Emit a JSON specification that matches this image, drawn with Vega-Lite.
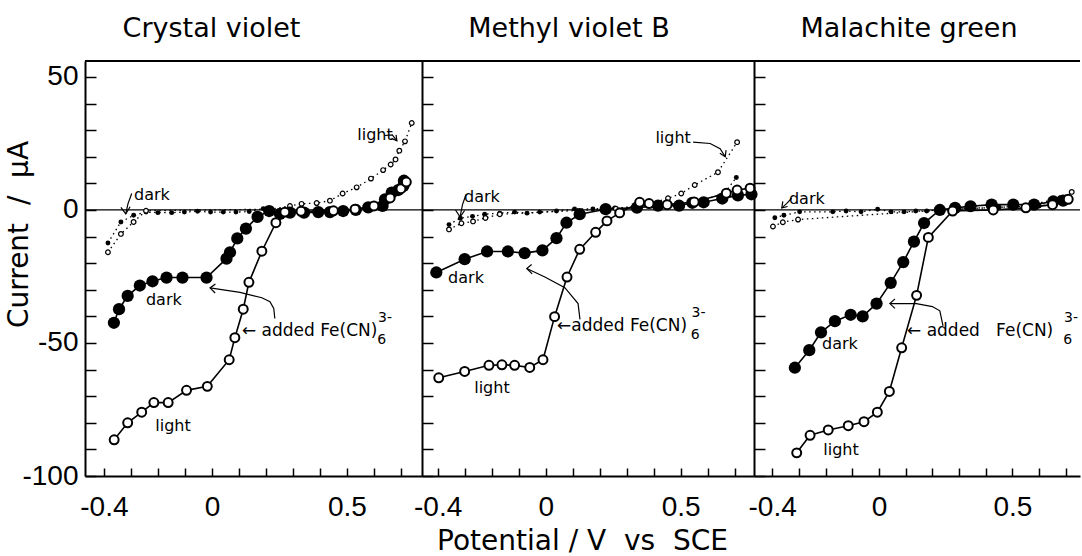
{
  "$schema": "https://vega.github.io/schema/vega-lite/v6.json",
  "padding": {"left": 5, "top": 15, "right": 0, "bottom": 0},
  "bounds": "flush",
  "spacing": 0,
  "config": {
    "view": {"stroke": null},
    "font": "DejaVu Sans",
    "axis": {"domainColor": "black", "domainWidth": 2, "tickColor": "black", "tickWidth": 1.5, "labelColor": "black", "labelFont": "Liberation Sans Narrow, Liberation Sans, DejaVu Sans", "labelFontSize": 28, "grid": false, "titleFont": "DejaVu Sans", "titleFontWeight": "normal", "titleColor": "black"},
    "title": {"font": "DejaVu Sans", "fontSize": 27, "fontWeight": "normal", "color": "black", "offset": 17, "baseline": "bottom"}
  },
  "datasets": {
    "pts": [
      {"p":1,"s":"dd","x":-0.385,"y":-12.4},{"p":1,"s":"dd","x":-0.337,"y":-4.5},{"p":1,"s":"dd","x":-0.29,"y":-2},{"p":1,"s":"dd","x":-0.244,"y":-0.8},{"p":1,"s":"dd","x":-0.2,"y":-1},{"p":1,"s":"dd","x":-0.149,"y":-1},{"p":1,"s":"dd","x":-0.102,"y":-0.8},{"p":1,"s":"dd","x":-0.053,"y":-0.5},{"p":1,"s":"dd","x":-0.005,"y":-0.8},{"p":1,"s":"dd","x":0.042,"y":-0.8},{"p":1,"s":"dd","x":0.089,"y":-0.8},{"p":1,"s":"dd","x":0.138,"y":-0.6},{"p":1,"s":"dd","x":0.19,"y":0.5},{"p":1,"s":"dd","x":0.25,"y":-0.8},{"p":1,"s":"dd","x":0.3,"y":-0.8},{"p":1,"s":"dd","x":0.4,"y":-0.6},{"p":1,"s":"dd","x":0.5,"y":-0.3},{"p":1,"s":"dd","x":0.6,"y":1.5},{"p":1,"s":"dd","x":0.68,"y":6},{"p":1,"s":"dd","x":0.72,"y":10},
      {"p":1,"s":"ld","x":-0.385,"y":-15.9},{"p":1,"s":"ld","x":-0.337,"y":-9},{"p":1,"s":"ld","x":-0.29,"y":-4.5},{"p":1,"s":"ld","x":-0.244,"y":-0.3},{"p":1,"s":"ld","x":0.22,"y":0.3},{"p":1,"s":"ld","x":0.289,"y":1.5},{"p":1,"s":"ld","x":0.332,"y":2.3},{"p":1,"s":"ld","x":0.388,"y":2.6},{"p":1,"s":"ld","x":0.437,"y":3.5},{"p":1,"s":"ld","x":0.484,"y":6.2},{"p":1,"s":"ld","x":0.536,"y":8.5},{"p":1,"s":"ld","x":0.589,"y":11.8},{"p":1,"s":"ld","x":0.634,"y":15},{"p":1,"s":"ld","x":0.662,"y":17.1},{"p":1,"s":"ld","x":0.68,"y":19},{"p":1,"s":"ld","x":0.694,"y":22.3},{"p":1,"s":"ld","x":0.715,"y":25.8},{"p":1,"s":"ld","x":0.74,"y":32.7},
      {"p":1,"s":"dk","x":-0.363,"y":-42.4},{"p":1,"s":"dk","x":-0.344,"y":-37.3},{"p":1,"s":"dk","x":-0.312,"y":-32.3},{"p":1,"s":"dk","x":-0.267,"y":-28.4},{"p":1,"s":"dk","x":-0.22,"y":-26.8},{"p":1,"s":"dk","x":-0.168,"y":-25.4},{"p":1,"s":"dk","x":-0.109,"y":-25.4},{"p":1,"s":"dk","x":-0.02,"y":-25.4},{"p":1,"s":"dk","x":0.054,"y":-18.3},{"p":1,"s":"dk","x":0.067,"y":-15.9},{"p":1,"s":"dk","x":0.094,"y":-10.7},{"p":1,"s":"dk","x":0.126,"y":-7},{"p":1,"s":"dk","x":0.169,"y":-2.6},{"p":1,"s":"dk","x":0.212,"y":-0.4},{"p":1,"s":"dk","x":0.252,"y":-1.5},{"p":1,"s":"dk","x":0.289,"y":-1},{"p":1,"s":"dk","x":0.341,"y":-1},{"p":1,"s":"dk","x":0.394,"y":-0.8},{"p":1,"s":"dk","x":0.437,"y":-0.8},{"p":1,"s":"dk","x":0.486,"y":-0.4},{"p":1,"s":"dk","x":0.533,"y":0},{"p":1,"s":"dk","x":0.579,"y":1},{"p":1,"s":"dk","x":0.632,"y":1.5},{"p":1,"s":"dk","x":0.641,"y":4},{"p":1,"s":"dk","x":0.666,"y":6.5},{"p":1,"s":"dk","x":0.69,"y":7.5},{"p":1,"s":"dk","x":0.709,"y":9},{"p":1,"s":"dk","x":0.711,"y":11},
      {"p":1,"s":"lt","x":-0.362,"y":-86.4},{"p":1,"s":"lt","x":-0.312,"y":-80},{"p":1,"s":"lt","x":-0.26,"y":-76},{"p":1,"s":"lt","x":-0.215,"y":-72.4},{"p":1,"s":"lt","x":-0.162,"y":-72.4},{"p":1,"s":"lt","x":-0.094,"y":-67.8},{"p":1,"s":"lt","x":-0.017,"y":-66.3},{"p":1,"s":"lt","x":0.064,"y":-56.3},{"p":1,"s":"lt","x":0.085,"y":-48},{"p":1,"s":"lt","x":0.116,"y":-37.3},{"p":1,"s":"lt","x":0.137,"y":-27.2},{"p":1,"s":"lt","x":0.185,"y":-15.5},{"p":1,"s":"lt","x":0.237,"y":-4.8},{"p":1,"s":"lt","x":0.27,"y":-0.8},{"p":1,"s":"lt","x":0.33,"y":-0.5},{"p":1,"s":"lt","x":0.45,"y":-0.3},{"p":1,"s":"lt","x":0.53,"y":0.3},{"p":1,"s":"lt","x":0.6,"y":1.5},{"p":1,"s":"lt","x":0.66,"y":4.5},{"p":1,"s":"lt","x":0.7,"y":8},{"p":1,"s":"lt","x":0.72,"y":10.5},

      {"p":2,"s":"dd","x":-0.358,"y":-5.5},{"p":2,"s":"dd","x":-0.316,"y":-3.1},{"p":2,"s":"dd","x":-0.271,"y":-2.4},{"p":2,"s":"dd","x":-0.226,"y":-1.6},{"p":2,"s":"dd","x":-0.17,"y":-1.2},{"p":2,"s":"dd","x":-0.115,"y":-0.8},{"p":2,"s":"dd","x":-0.069,"y":-1.2},{"p":2,"s":"dd","x":-0.022,"y":-0.8},{"p":2,"s":"dd","x":0.04,"y":-0.4},{"p":2,"s":"dd","x":0.107,"y":0.4},{"p":2,"s":"dd","x":0.175,"y":0.4},{"p":2,"s":"dd","x":0.256,"y":0.8},{"p":2,"s":"dd","x":0.35,"y":1},{"p":2,"s":"dd","x":0.45,"y":2},{"p":2,"s":"dd","x":0.55,"y":3},{"p":2,"s":"dd","x":0.66,"y":6},{"p":2,"s":"dd","x":0.706,"y":12.2},
      {"p":2,"s":"ld","x":-0.358,"y":-7.3},{"p":2,"s":"ld","x":-0.312,"y":-5},{"p":2,"s":"ld","x":-0.269,"y":-4.3},{"p":2,"s":"ld","x":-0.223,"y":-3},{"p":2,"s":"ld","x":-0.17,"y":-1.6},{"p":2,"s":"ld","x":0.26,"y":0.5},{"p":2,"s":"ld","x":0.383,"y":2.2},{"p":2,"s":"ld","x":0.453,"y":4.4},{"p":2,"s":"ld","x":0.502,"y":6.2},{"p":2,"s":"ld","x":0.552,"y":9.4},{"p":2,"s":"ld","x":0.638,"y":14.2},{"p":2,"s":"ld","x":0.709,"y":25.5},
      {"p":2,"s":"dk","x":-0.405,"y":-23.5},{"p":2,"s":"dk","x":-0.3,"y":-18.5},{"p":2,"s":"dk","x":-0.217,"y":-15.6},{"p":2,"s":"dk","x":-0.14,"y":-15.6},{"p":2,"s":"dk","x":-0.078,"y":-16.2},{"p":2,"s":"dk","x":-0.012,"y":-15.2},{"p":2,"s":"dk","x":0.04,"y":-10.6},{"p":2,"s":"dk","x":0.077,"y":-4.8},{"p":2,"s":"dk","x":0.126,"y":-1.6},{"p":2,"s":"dk","x":0.222,"y":0.3},{"p":2,"s":"dk","x":0.338,"y":0.9},{"p":2,"s":"dk","x":0.416,"y":1.6},{"p":2,"s":"dk","x":0.494,"y":1.6},{"p":2,"s":"dk","x":0.543,"y":2.7},{"p":2,"s":"dk","x":0.585,"y":2.9},{"p":2,"s":"dk","x":0.654,"y":4.3},{"p":2,"s":"dk","x":0.712,"y":5.5},{"p":2,"s":"dk","x":0.762,"y":5.9},
      {"p":2,"s":"lt","x":-0.396,"y":-63.1},{"p":2,"s":"lt","x":-0.3,"y":-60.7},{"p":2,"s":"lt","x":-0.21,"y":-58.4},{"p":2,"s":"lt","x":-0.162,"y":-58.2},{"p":2,"s":"lt","x":-0.115,"y":-58.4},{"p":2,"s":"lt","x":-0.059,"y":-59.2},{"p":2,"s":"lt","x":-0.01,"y":-56.3},{"p":2,"s":"lt","x":0.033,"y":-40.1},{"p":2,"s":"lt","x":0.079,"y":-25.2},{"p":2,"s":"lt","x":0.126,"y":-14.8},{"p":2,"s":"lt","x":0.185,"y":-8.4},{"p":2,"s":"lt","x":0.227,"y":-4.1},{"p":2,"s":"lt","x":0.274,"y":-1.1},{"p":2,"s":"lt","x":0.348,"y":2.9},{"p":2,"s":"lt","x":0.383,"y":2.4},{"p":2,"s":"lt","x":0.45,"y":2},{"p":2,"s":"lt","x":0.55,"y":3},{"p":2,"s":"lt","x":0.669,"y":6.3},{"p":2,"s":"lt","x":0.709,"y":7.5},{"p":2,"s":"lt","x":0.757,"y":8.2},

      {"p":3,"s":"dd","x":-0.39,"y":-2.9},{"p":3,"s":"dd","x":-0.356,"y":-2},{"p":3,"s":"dd","x":-0.297,"y":-0.7},{"p":3,"s":"dd","x":-0.173,"y":-0.7},{"p":3,"s":"dd","x":-0.123,"y":-0.4},{"p":3,"s":"dd","x":-0.067,"y":-0.7},{"p":3,"s":"dd","x":-0.005,"y":0.3},{"p":3,"s":"dd","x":0.045,"y":-0.7},{"p":3,"s":"dd","x":0.094,"y":-0.7},{"p":3,"s":"dd","x":0.138,"y":-0.4},{"p":3,"s":"dd","x":0.179,"y":-0.4},{"p":3,"s":"dd","x":0.3,"y":0.5},{"p":3,"s":"dd","x":0.45,"y":1},{"p":3,"s":"dd","x":0.6,"y":1.5},{"p":3,"s":"dd","x":0.7,"y":3},
      {"p":3,"s":"ld","x":-0.397,"y":-6.2},{"p":3,"s":"ld","x":-0.36,"y":-4.6},{"p":3,"s":"ld","x":-0.303,"y":-3.6},{"p":3,"s":"ld","x":0.23,"y":0},{"p":3,"s":"ld","x":0.55,"y":1.5},{"p":3,"s":"ld","x":0.678,"y":4.4},{"p":3,"s":"ld","x":0.722,"y":6.8},
      {"p":3,"s":"dk","x":-0.315,"y":-59.3},{"p":3,"s":"dk","x":-0.261,"y":-52.7},{"p":3,"s":"dk","x":-0.217,"y":-46},{"p":3,"s":"dk","x":-0.165,"y":-41.8},{"p":3,"s":"dk","x":-0.106,"y":-39.4},{"p":3,"s":"dk","x":-0.061,"y":-40},{"p":3,"s":"dk","x":-0.009,"y":-35.2},{"p":3,"s":"dk","x":0.044,"y":-27.4},{"p":3,"s":"dk","x":0.091,"y":-19.6},{"p":3,"s":"dk","x":0.131,"y":-11.9},{"p":3,"s":"dk","x":0.169,"y":-4.9},{"p":3,"s":"dk","x":0.228,"y":0},{"p":3,"s":"dk","x":0.285,"y":0.8},{"p":3,"s":"dk","x":0.343,"y":1.4},{"p":3,"s":"dk","x":0.422,"y":2},{"p":3,"s":"dk","x":0.503,"y":2},{"p":3,"s":"dk","x":0.581,"y":2},{"p":3,"s":"dk","x":0.653,"y":3.2},{"p":3,"s":"dk","x":0.69,"y":3.5},
      {"p":3,"s":"lt","x":-0.308,"y":-91.3},{"p":3,"s":"lt","x":-0.258,"y":-84.7},{"p":3,"s":"lt","x":-0.19,"y":-82.7},{"p":3,"s":"lt","x":-0.115,"y":-81.1},{"p":3,"s":"lt","x":-0.056,"y":-79.6},{"p":3,"s":"lt","x":-0.006,"y":-76},{"p":3,"s":"lt","x":0.039,"y":-68.2},{"p":3,"s":"lt","x":0.085,"y":-51.8},{"p":3,"s":"lt","x":0.141,"y":-32.1},{"p":3,"s":"lt","x":0.185,"y":-10.3},{"p":3,"s":"lt","x":0.276,"y":-0.4},{"p":3,"s":"lt","x":0.428,"y":0},{"p":3,"s":"lt","x":0.55,"y":0.8},{"p":3,"s":"lt","x":0.65,"y":2},{"p":3,"s":"lt","x":0.709,"y":4}
    ],
    "notes": [
      {"p":1,"k":"label","x":-0.222,"y":5.8,"t":"dark"},{"p":1,"k":"label","x":0.604,"y":28,"t":"light"},{"p":1,"k":"label","x":-0.178,"y":-33.8,"t":"dark"},{"p":1,"k":"label","x":-0.144,"y":-81.2,"t":"light"},
      {"p":1,"k":"added","x":0.111,"y":-45.4,"t":"← added Fe(CN)"},{"p":1,"k":"sub","x":0.612,"y":-48.8,"t":"6"},{"p":1,"k":"sub","x":0.615,"y":-40.5,"t":"3-"},
      {"p":2,"k":"label","x":-0.236,"y":5,"t":"dark"},{"p":2,"k":"label","x":0.472,"y":27,"t":"light"},{"p":2,"k":"label","x":-0.295,"y":-25.6,"t":"dark"},{"p":2,"k":"label","x":-0.199,"y":-66.9,"t":"light"},
      {"p":2,"k":"added","x":0.042,"y":-43.7,"t":"←added Fe(CN)"},{"p":2,"k":"sub","x":0.537,"y":-47.1,"t":"6"},{"p":2,"k":"sub","x":0.54,"y":-38.8,"t":"3-"},
      {"p":3,"k":"label","x":-0.27,"y":4.3,"t":"dark"},{"p":3,"k":"label","x":-0.146,"y":-50.4,"t":"dark"},{"p":3,"k":"label","x":-0.142,"y":-90.4,"t":"light"},
      {"p":3,"k":"added","x":0.105,"y":-45.4,"t":"← added\u00a0\u00a0\u00a0Fe(CN)"},{"p":3,"k":"sub","x":0.69,"y":-48.8,"t":"6"},{"p":3,"k":"sub","x":0.693,"y":-40.5,"t":"3-"}
    ],
    "arrows": [
      {"p":1,"id":"a1","o":1,"x":-0.297,"y":6.2},{"p":1,"id":"a1","o":2,"x":-0.311,"y":2.3},{"p":1,"id":"a1","o":3,"x":-0.319,"y":-1.5},
      {"p":1,"id":"a1h","o":1,"x":-0.337,"y":1},{"p":1,"id":"a1h","o":2,"x":-0.319,"y":-1.5},{"p":1,"id":"a1h","o":3,"x":-0.303,"y":1.2},
      {"p":1,"id":"a2","o":1,"x":0.64,"y":28},{"p":1,"id":"a2","o":2,"x":0.668,"y":28.2},{"p":1,"id":"a2","o":3,"x":0.685,"y":26},
      {"p":1,"id":"a2h","o":1,"x":0.665,"y":26.9},{"p":1,"id":"a2h","o":2,"x":0.685,"y":26},{"p":1,"id":"a2h","o":3,"x":0.682,"y":28.2},
      {"p":1,"id":"a3","o":1,"x":0.233,"y":-40.8},{"p":1,"id":"a3","o":2,"x":0.229,"y":-37},{"p":1,"id":"a3","o":3,"x":0.215,"y":-34.5},{"p":1,"id":"a3","o":4,"x":0.185,"y":-33},{"p":1,"id":"a3","o":5,"x":0.104,"y":-31},{"p":1,"id":"a3","o":6,"x":-0.007,"y":-29.3},
      {"p":1,"id":"a3h","o":1,"x":0.013,"y":-27.8},{"p":1,"id":"a3h","o":2,"x":-0.007,"y":-29.3},{"p":1,"id":"a3h","o":3,"x":0.012,"y":-31.2},
      {"p":2,"id":"a1","o":1,"x":-0.295,"y":5.8},{"p":2,"id":"a1","o":2,"x":-0.308,"y":2},{"p":2,"id":"a1","o":3,"x":-0.317,"y":-2.6},
      {"p":2,"id":"a1h","o":1,"x":-0.334,"y":0},{"p":2,"id":"a1h","o":2,"x":-0.317,"y":-2.6},{"p":2,"id":"a1h","o":3,"x":-0.3,"y":-0.2},
      {"p":2,"id":"a2","o":1,"x":0.546,"y":25.5},{"p":2,"id":"a2","o":2,"x":0.609,"y":25},{"p":2,"id":"a2","o":3,"x":0.646,"y":23},{"p":2,"id":"a2","o":4,"x":0.665,"y":20},
      {"p":2,"id":"a2h","o":1,"x":0.645,"y":21.3},{"p":2,"id":"a2h","o":2,"x":0.665,"y":20},{"p":2,"id":"a2h","o":3,"x":0.668,"y":22.5},
      {"p":2,"id":"a3","o":1,"x":0.127,"y":-41.1},{"p":2,"id":"a3","o":2,"x":0.12,"y":-35.2},{"p":2,"id":"a3","o":3,"x":0.071,"y":-29.2},{"p":2,"id":"a3","o":4,"x":-0.003,"y":-25.2},{"p":2,"id":"a3","o":5,"x":-0.07,"y":-22},
      {"p":2,"id":"a3h","o":1,"x":-0.052,"y":-20.5},{"p":2,"id":"a3h","o":2,"x":-0.07,"y":-22},{"p":2,"id":"a3h","o":3,"x":-0.05,"y":-24},
      {"p":3,"id":"a1","o":1,"x":-0.327,"y":4.4},{"p":3,"id":"a1","o":2,"x":-0.345,"y":2.5},{"p":3,"id":"a1","o":3,"x":-0.364,"y":0.8},
      {"p":3,"id":"a1h","o":1,"x":-0.36,"y":3.2},{"p":3,"id":"a1h","o":2,"x":-0.364,"y":0.8},{"p":3,"id":"a1h","o":3,"x":-0.342,"y":1.3},
      {"p":3,"id":"a3","o":1,"x":0.24,"y":-43.6},{"p":3,"id":"a3","o":2,"x":0.228,"y":-37.9},{"p":3,"id":"a3","o":3,"x":0.2,"y":-36.3},{"p":3,"id":"a3","o":4,"x":0.14,"y":-35.2},{"p":3,"id":"a3","o":5,"x":0.041,"y":-35.2},
      {"p":3,"id":"a3h","o":1,"x":0.06,"y":-33.4},{"p":3,"id":"a3h","o":2,"x":0.041,"y":-35.2},{"p":3,"id":"a3h","o":3,"x":0.06,"y":-37}
    ]
  },
  "hconcat": [
    {
      "width": 337, "height": 415,
      "title": {"text": "Crystal violet", "dx": -42},
      "layer": [
        {"data": {"name": "pts"}, "transform": [{"filter": "datum.p == 1 && (datum.s == 'dd' || datum.s == 'ld')"}], "mark": {"type": "line", "color": "black", "strokeWidth": 1.3, "strokeDash": [1.5, 3.5]},
          "encoding": {
            "x": {"field": "x", "type": "quantitative", "scale": {"domain": [-0.47, 0.778], "nice": false, "zero": false}, "axis": {"orient": "bottom", "values": [-0.4,-0.3,-0.2,-0.1,0,0.1,0.2,0.3,0.4,0.5,0.6,0.7], "tickSize": -8, "labelPadding": 25, "labelOverlap": false, "labelFlush": false, "title": null, "labelExpr": "datum.value == 0 ? '0' : abs(datum.value + 0.4) < 0.001 ? '-0.4' : abs(datum.value - 0.5) < 0.001 ? '0.5' : ''"}},
            "y": {"field": "y", "type": "quantitative", "scale": {"domain": [-100, 56], "nice": false, "zero": false}, "axis": {"orient": "left", "values": [-100,-90,-80,-70,-60,-50,-40,-30,-20,-10,0,10,20,30,40,50], "tickSize": -11, "labelPadding": 18, "labelOverlap": false, "labelExpr": "datum.value == 50 ? '50' : datum.value == 0 ? '0' : datum.value == -50 ? '-50' : datum.value == -100 ? '-100' : ''", "title": "Current\u00a0\u00a0/\u00a0\u00a0μA", "titleFontSize": 28, "titleX": -66, "titleY": 173, "titleBaseline": "middle"}},
            "detail": {"field": "s"}}},
        {"data": {"values": [{}]}, "mark": {"type": "rule", "color": "black", "strokeWidth": 1.3},
          "encoding": {"y": {"datum": 0, "type": "quantitative", "scale": {"domain": [-100, 56], "nice": false, "zero": false}, "axis": {"orient": "left", "values": [-100,-90,-80,-70,-60,-50,-40,-30,-20,-10,0,10,20,30,40,50], "tickSize": -11, "labelPadding": 18, "labelOverlap": false, "labelExpr": "datum.value == 50 ? '50' : datum.value == 0 ? '0' : datum.value == -50 ? '-50' : datum.value == -100 ? '-100' : ''", "title": "Current\u00a0\u00a0/\u00a0\u00a0μA", "titleFontSize": 28, "titleX": -66, "titleY": 173, "titleBaseline": "middle"}}}},
        {"data": {"values": [{}]}, "mark": {"type": "rule", "color": "black", "strokeWidth": 2},
          "encoding": {"y": {"datum": 56, "type": "quantitative", "scale": {"domain": [-100, 56], "nice": false, "zero": false}, "axis": {"orient": "left", "values": [-100,-90,-80,-70,-60,-50,-40,-30,-20,-10,0,10,20,30,40,50], "tickSize": -11, "labelPadding": 18, "labelOverlap": false, "labelExpr": "datum.value == 50 ? '50' : datum.value == 0 ? '0' : datum.value == -50 ? '-50' : datum.value == -100 ? '-100' : ''", "title": "Current\u00a0\u00a0/\u00a0\u00a0μA", "titleFontSize": 28, "titleX": -66, "titleY": 173, "titleBaseline": "middle"}}}},
        {"data": {"name": "pts"}, "transform": [{"filter": "datum.p == 1 && (datum.s == 'dk' || datum.s == 'lt')"}], "mark": {"type": "line", "color": "black", "strokeWidth": 1.6},
          "encoding": {
            "x": {"field": "x", "type": "quantitative", "scale": {"domain": [-0.47, 0.778], "nice": false, "zero": false}, "axis": {"orient": "bottom", "values": [-0.4,-0.3,-0.2,-0.1,0,0.1,0.2,0.3,0.4,0.5,0.6,0.7], "tickSize": -8, "labelPadding": 25, "labelOverlap": false, "labelFlush": false, "title": null, "labelExpr": "datum.value == 0 ? '0' : abs(datum.value + 0.4) < 0.001 ? '-0.4' : abs(datum.value - 0.5) < 0.001 ? '0.5' : ''"}},
            "y": {"field": "y", "type": "quantitative", "scale": {"domain": [-100, 56], "nice": false, "zero": false}, "axis": {"orient": "left", "values": [-100,-90,-80,-70,-60,-50,-40,-30,-20,-10,0,10,20,30,40,50], "tickSize": -11, "labelPadding": 18, "labelOverlap": false, "labelExpr": "datum.value == 50 ? '50' : datum.value == 0 ? '0' : datum.value == -50 ? '-50' : datum.value == -100 ? '-100' : ''", "title": "Current\u00a0\u00a0/\u00a0\u00a0μA", "titleFontSize": 28, "titleX": -66, "titleY": 173, "titleBaseline": "middle"}},
            "detail": {"field": "s"}}},
        {"data": {"name": "arrows"}, "transform": [{"filter": "datum.p == 1"}], "mark": {"type": "line", "color": "black", "strokeWidth": 1.2},
          "encoding": {
            "x": {"field": "x", "type": "quantitative", "scale": {"domain": [-0.47, 0.778], "nice": false, "zero": false}, "axis": {"orient": "bottom", "values": [-0.4,-0.3,-0.2,-0.1,0,0.1,0.2,0.3,0.4,0.5,0.6,0.7], "tickSize": -8, "labelPadding": 25, "labelOverlap": false, "labelFlush": false, "title": null, "labelExpr": "datum.value == 0 ? '0' : abs(datum.value + 0.4) < 0.001 ? '-0.4' : abs(datum.value - 0.5) < 0.001 ? '0.5' : ''"}},
            "y": {"field": "y", "type": "quantitative", "scale": {"domain": [-100, 56], "nice": false, "zero": false}, "axis": {"orient": "left", "values": [-100,-90,-80,-70,-60,-50,-40,-30,-20,-10,0,10,20,30,40,50], "tickSize": -11, "labelPadding": 18, "labelOverlap": false, "labelExpr": "datum.value == 50 ? '50' : datum.value == 0 ? '0' : datum.value == -50 ? '-50' : datum.value == -100 ? '-100' : ''", "title": "Current\u00a0\u00a0/\u00a0\u00a0μA", "titleFontSize": 28, "titleX": -66, "titleY": 173, "titleBaseline": "middle"}},
            "detail": {"field": "id"}, "order": {"field": "o"}}},
        {"data": {"name": "pts"}, "transform": [{"filter": "datum.p == 1 && datum.s == 'dd'"}], "mark": {"type": "point", "shape": "circle", "filled": true, "color": "black", "size": 24, "opacity": 1},
          "encoding": {
            "x": {"field": "x", "type": "quantitative", "scale": {"domain": [-0.47, 0.778], "nice": false, "zero": false}, "axis": {"orient": "bottom", "values": [-0.4,-0.3,-0.2,-0.1,0,0.1,0.2,0.3,0.4,0.5,0.6,0.7], "tickSize": -8, "labelPadding": 25, "labelOverlap": false, "labelFlush": false, "title": null, "labelExpr": "datum.value == 0 ? '0' : abs(datum.value + 0.4) < 0.001 ? '-0.4' : abs(datum.value - 0.5) < 0.001 ? '0.5' : ''"}},
            "y": {"field": "y", "type": "quantitative", "scale": {"domain": [-100, 56], "nice": false, "zero": false}, "axis": {"orient": "left", "values": [-100,-90,-80,-70,-60,-50,-40,-30,-20,-10,0,10,20,30,40,50], "tickSize": -11, "labelPadding": 18, "labelOverlap": false, "labelExpr": "datum.value == 50 ? '50' : datum.value == 0 ? '0' : datum.value == -50 ? '-50' : datum.value == -100 ? '-100' : ''", "title": "Current\u00a0\u00a0/\u00a0\u00a0μA", "titleFontSize": 28, "titleX": -66, "titleY": 173, "titleBaseline": "middle"}}}},
        {"data": {"name": "pts"}, "transform": [{"filter": "datum.p == 1 && datum.s == 'ld'"}], "mark": {"type": "point", "shape": "circle", "filled": true, "fill": "white", "stroke": "black", "strokeWidth": 1.2, "size": 22, "opacity": 1},
          "encoding": {
            "x": {"field": "x", "type": "quantitative", "scale": {"domain": [-0.47, 0.778], "nice": false, "zero": false}, "axis": {"orient": "bottom", "values": [-0.4,-0.3,-0.2,-0.1,0,0.1,0.2,0.3,0.4,0.5,0.6,0.7], "tickSize": -8, "labelPadding": 25, "labelOverlap": false, "labelFlush": false, "title": null, "labelExpr": "datum.value == 0 ? '0' : abs(datum.value + 0.4) < 0.001 ? '-0.4' : abs(datum.value - 0.5) < 0.001 ? '0.5' : ''"}},
            "y": {"field": "y", "type": "quantitative", "scale": {"domain": [-100, 56], "nice": false, "zero": false}, "axis": {"orient": "left", "values": [-100,-90,-80,-70,-60,-50,-40,-30,-20,-10,0,10,20,30,40,50], "tickSize": -11, "labelPadding": 18, "labelOverlap": false, "labelExpr": "datum.value == 50 ? '50' : datum.value == 0 ? '0' : datum.value == -50 ? '-50' : datum.value == -100 ? '-100' : ''", "title": "Current\u00a0\u00a0/\u00a0\u00a0μA", "titleFontSize": 28, "titleX": -66, "titleY": 173, "titleBaseline": "middle"}}}},
        {"data": {"name": "pts"}, "transform": [{"filter": "datum.p == 1 && datum.s == 'dk'"}], "mark": {"type": "point", "shape": "circle", "filled": true, "color": "black", "size": 150, "opacity": 1},
          "encoding": {
            "x": {"field": "x", "type": "quantitative", "scale": {"domain": [-0.47, 0.778], "nice": false, "zero": false}, "axis": {"orient": "bottom", "values": [-0.4,-0.3,-0.2,-0.1,0,0.1,0.2,0.3,0.4,0.5,0.6,0.7], "tickSize": -8, "labelPadding": 25, "labelOverlap": false, "labelFlush": false, "title": null, "labelExpr": "datum.value == 0 ? '0' : abs(datum.value + 0.4) < 0.001 ? '-0.4' : abs(datum.value - 0.5) < 0.001 ? '0.5' : ''"}},
            "y": {"field": "y", "type": "quantitative", "scale": {"domain": [-100, 56], "nice": false, "zero": false}, "axis": {"orient": "left", "values": [-100,-90,-80,-70,-60,-50,-40,-30,-20,-10,0,10,20,30,40,50], "tickSize": -11, "labelPadding": 18, "labelOverlap": false, "labelExpr": "datum.value == 50 ? '50' : datum.value == 0 ? '0' : datum.value == -50 ? '-50' : datum.value == -100 ? '-100' : ''", "title": "Current\u00a0\u00a0/\u00a0\u00a0μA", "titleFontSize": 28, "titleX": -66, "titleY": 173, "titleBaseline": "middle"}}}},
        {"data": {"name": "pts"}, "transform": [{"filter": "datum.p == 1 && datum.s == 'lt'"}], "mark": {"type": "point", "shape": "circle", "filled": true, "fill": "white", "stroke": "black", "strokeWidth": 2, "size": 80, "opacity": 1},
          "encoding": {
            "x": {"field": "x", "type": "quantitative", "scale": {"domain": [-0.47, 0.778], "nice": false, "zero": false}, "axis": {"orient": "bottom", "values": [-0.4,-0.3,-0.2,-0.1,0,0.1,0.2,0.3,0.4,0.5,0.6,0.7], "tickSize": -8, "labelPadding": 25, "labelOverlap": false, "labelFlush": false, "title": null, "labelExpr": "datum.value == 0 ? '0' : abs(datum.value + 0.4) < 0.001 ? '-0.4' : abs(datum.value - 0.5) < 0.001 ? '0.5' : ''"}},
            "y": {"field": "y", "type": "quantitative", "scale": {"domain": [-100, 56], "nice": false, "zero": false}, "axis": {"orient": "left", "values": [-100,-90,-80,-70,-60,-50,-40,-30,-20,-10,0,10,20,30,40,50], "tickSize": -11, "labelPadding": 18, "labelOverlap": false, "labelExpr": "datum.value == 50 ? '50' : datum.value == 0 ? '0' : datum.value == -50 ? '-50' : datum.value == -100 ? '-100' : ''", "title": "Current\u00a0\u00a0/\u00a0\u00a0μA", "titleFontSize": 28, "titleX": -66, "titleY": 173, "titleBaseline": "middle"}}}},
        {"data": {"name": "notes"}, "transform": [{"filter": "datum.p == 1 && datum.k == 'label'"}], "mark": {"type": "text", "align": "center", "baseline": "middle", "fontSize": 16, "color": "black"},
          "encoding": {
            "x": {"field": "x", "type": "quantitative", "scale": {"domain": [-0.47, 0.778], "nice": false, "zero": false}, "axis": {"orient": "bottom", "values": [-0.4,-0.3,-0.2,-0.1,0,0.1,0.2,0.3,0.4,0.5,0.6,0.7], "tickSize": -8, "labelPadding": 25, "labelOverlap": false, "labelFlush": false, "title": null, "labelExpr": "datum.value == 0 ? '0' : abs(datum.value + 0.4) < 0.001 ? '-0.4' : abs(datum.value - 0.5) < 0.001 ? '0.5' : ''"}},
            "y": {"field": "y", "type": "quantitative", "scale": {"domain": [-100, 56], "nice": false, "zero": false}, "axis": {"orient": "left", "values": [-100,-90,-80,-70,-60,-50,-40,-30,-20,-10,0,10,20,30,40,50], "tickSize": -11, "labelPadding": 18, "labelOverlap": false, "labelExpr": "datum.value == 50 ? '50' : datum.value == 0 ? '0' : datum.value == -50 ? '-50' : datum.value == -100 ? '-100' : ''", "title": "Current\u00a0\u00a0/\u00a0\u00a0μA", "titleFontSize": 28, "titleX": -66, "titleY": 173, "titleBaseline": "middle"}},
            "text": {"field": "t"}}},
        {"data": {"name": "notes"}, "transform": [{"filter": "datum.p == 1 && datum.k == 'added'"}], "mark": {"type": "text", "align": "left", "baseline": "middle", "fontSize": 17, "color": "black"},
          "encoding": {
            "x": {"field": "x", "type": "quantitative", "scale": {"domain": [-0.47, 0.778], "nice": false, "zero": false}, "axis": {"orient": "bottom", "values": [-0.4,-0.3,-0.2,-0.1,0,0.1,0.2,0.3,0.4,0.5,0.6,0.7], "tickSize": -8, "labelPadding": 25, "labelOverlap": false, "labelFlush": false, "title": null, "labelExpr": "datum.value == 0 ? '0' : abs(datum.value + 0.4) < 0.001 ? '-0.4' : abs(datum.value - 0.5) < 0.001 ? '0.5' : ''"}},
            "y": {"field": "y", "type": "quantitative", "scale": {"domain": [-100, 56], "nice": false, "zero": false}, "axis": {"orient": "left", "values": [-100,-90,-80,-70,-60,-50,-40,-30,-20,-10,0,10,20,30,40,50], "tickSize": -11, "labelPadding": 18, "labelOverlap": false, "labelExpr": "datum.value == 50 ? '50' : datum.value == 0 ? '0' : datum.value == -50 ? '-50' : datum.value == -100 ? '-100' : ''", "title": "Current\u00a0\u00a0/\u00a0\u00a0μA", "titleFontSize": 28, "titleX": -66, "titleY": 173, "titleBaseline": "middle"}},
            "text": {"field": "t"}}},
        {"data": {"name": "notes"}, "transform": [{"filter": "datum.p == 1 && datum.k == 'sub'"}], "mark": {"type": "text", "align": "left", "baseline": "middle", "fontSize": 14, "color": "black"},
          "encoding": {
            "x": {"field": "x", "type": "quantitative", "scale": {"domain": [-0.47, 0.778], "nice": false, "zero": false}, "axis": {"orient": "bottom", "values": [-0.4,-0.3,-0.2,-0.1,0,0.1,0.2,0.3,0.4,0.5,0.6,0.7], "tickSize": -8, "labelPadding": 25, "labelOverlap": false, "labelFlush": false, "title": null, "labelExpr": "datum.value == 0 ? '0' : abs(datum.value + 0.4) < 0.001 ? '-0.4' : abs(datum.value - 0.5) < 0.001 ? '0.5' : ''"}},
            "y": {"field": "y", "type": "quantitative", "scale": {"domain": [-100, 56], "nice": false, "zero": false}, "axis": {"orient": "left", "values": [-100,-90,-80,-70,-60,-50,-40,-30,-20,-10,0,10,20,30,40,50], "tickSize": -11, "labelPadding": 18, "labelOverlap": false, "labelExpr": "datum.value == 50 ? '50' : datum.value == 0 ? '0' : datum.value == -50 ? '-50' : datum.value == -100 ? '-100' : ''", "title": "Current\u00a0\u00a0/\u00a0\u00a0μA", "titleFontSize": 28, "titleX": -66, "titleY": 173, "titleBaseline": "middle"}},
            "text": {"field": "t"}}}
      ]
    },
    {
      "width": 332, "height": 415,
      "title": {"text": "Methyl violet B", "dx": -19},
      "layer": [
        {"data": {"name": "pts"}, "transform": [{"filter": "datum.p == 2 && (datum.s == 'dd' || datum.s == 'ld')"}], "mark": {"type": "line", "color": "black", "strokeWidth": 1.3, "strokeDash": [1.5, 3.5]},
          "encoding": {
            "x": {"field": "x", "type": "quantitative", "scale": {"domain": [-0.458, 0.7715], "nice": false, "zero": false}, "axis": {"orient": "bottom", "values": [-0.4,-0.3,-0.2,-0.1,0,0.1,0.2,0.3,0.4,0.5,0.6,0.7], "tickSize": -8, "labelPadding": 25, "labelOverlap": false, "labelFlush": false, "labelExpr": "datum.value == 0 ? '0' : abs(datum.value + 0.4) < 0.001 ? '-0.4' : abs(datum.value - 0.5) < 0.001 ? '0.5' : ''", "title": "Potential / V\u00a0\u00a0vs\u00a0\u00a0SCE", "titleFontSize": 28, "titlePadding": 6, "titleX": 160}},
            "y": {"field": "y", "type": "quantitative", "scale": {"domain": [-100, 56], "nice": false, "zero": false}, "axis": {"orient": "left", "values": [-100,-90,-80,-70,-60,-50,-40,-30,-20,-10,0,10,20,30,40,50], "tickSize": -11, "labels": false, "title": null}},
            "detail": {"field": "s"}}},
        {"data": {"values": [{}]}, "mark": {"type": "rule", "color": "black", "strokeWidth": 1.3},
          "encoding": {"y": {"datum": 0, "type": "quantitative", "scale": {"domain": [-100, 56], "nice": false, "zero": false}, "axis": {"orient": "left", "values": [-100,-90,-80,-70,-60,-50,-40,-30,-20,-10,0,10,20,30,40,50], "tickSize": -11, "labels": false, "title": null}}}},
        {"data": {"values": [{}]}, "mark": {"type": "rule", "color": "black", "strokeWidth": 2},
          "encoding": {"y": {"datum": 56, "type": "quantitative", "scale": {"domain": [-100, 56], "nice": false, "zero": false}, "axis": {"orient": "left", "values": [-100,-90,-80,-70,-60,-50,-40,-30,-20,-10,0,10,20,30,40,50], "tickSize": -11, "labels": false, "title": null}}}},
        {"data": {"name": "pts"}, "transform": [{"filter": "datum.p == 2 && (datum.s == 'dk' || datum.s == 'lt')"}], "mark": {"type": "line", "color": "black", "strokeWidth": 1.6},
          "encoding": {
            "x": {"field": "x", "type": "quantitative", "scale": {"domain": [-0.458, 0.7715], "nice": false, "zero": false}, "axis": {"orient": "bottom", "values": [-0.4,-0.3,-0.2,-0.1,0,0.1,0.2,0.3,0.4,0.5,0.6,0.7], "tickSize": -8, "labelPadding": 25, "labelOverlap": false, "labelFlush": false, "labelExpr": "datum.value == 0 ? '0' : abs(datum.value + 0.4) < 0.001 ? '-0.4' : abs(datum.value - 0.5) < 0.001 ? '0.5' : ''", "title": "Potential / V\u00a0\u00a0vs\u00a0\u00a0SCE", "titleFontSize": 28, "titlePadding": 6, "titleX": 160}},
            "y": {"field": "y", "type": "quantitative", "scale": {"domain": [-100, 56], "nice": false, "zero": false}, "axis": {"orient": "left", "values": [-100,-90,-80,-70,-60,-50,-40,-30,-20,-10,0,10,20,30,40,50], "tickSize": -11, "labels": false, "title": null}},
            "detail": {"field": "s"}}},
        {"data": {"name": "arrows"}, "transform": [{"filter": "datum.p == 2"}], "mark": {"type": "line", "color": "black", "strokeWidth": 1.2},
          "encoding": {
            "x": {"field": "x", "type": "quantitative", "scale": {"domain": [-0.458, 0.7715], "nice": false, "zero": false}, "axis": {"orient": "bottom", "values": [-0.4,-0.3,-0.2,-0.1,0,0.1,0.2,0.3,0.4,0.5,0.6,0.7], "tickSize": -8, "labelPadding": 25, "labelOverlap": false, "labelFlush": false, "labelExpr": "datum.value == 0 ? '0' : abs(datum.value + 0.4) < 0.001 ? '-0.4' : abs(datum.value - 0.5) < 0.001 ? '0.5' : ''", "title": "Potential / V\u00a0\u00a0vs\u00a0\u00a0SCE", "titleFontSize": 28, "titlePadding": 6, "titleX": 160}},
            "y": {"field": "y", "type": "quantitative", "scale": {"domain": [-100, 56], "nice": false, "zero": false}, "axis": {"orient": "left", "values": [-100,-90,-80,-70,-60,-50,-40,-30,-20,-10,0,10,20,30,40,50], "tickSize": -11, "labels": false, "title": null}},
            "detail": {"field": "id"}, "order": {"field": "o"}}},
        {"data": {"name": "pts"}, "transform": [{"filter": "datum.p == 2 && datum.s == 'dd'"}], "mark": {"type": "point", "shape": "circle", "filled": true, "color": "black", "size": 24, "opacity": 1},
          "encoding": {
            "x": {"field": "x", "type": "quantitative", "scale": {"domain": [-0.458, 0.7715], "nice": false, "zero": false}, "axis": {"orient": "bottom", "values": [-0.4,-0.3,-0.2,-0.1,0,0.1,0.2,0.3,0.4,0.5,0.6,0.7], "tickSize": -8, "labelPadding": 25, "labelOverlap": false, "labelFlush": false, "labelExpr": "datum.value == 0 ? '0' : abs(datum.value + 0.4) < 0.001 ? '-0.4' : abs(datum.value - 0.5) < 0.001 ? '0.5' : ''", "title": "Potential / V\u00a0\u00a0vs\u00a0\u00a0SCE", "titleFontSize": 28, "titlePadding": 6, "titleX": 160}},
            "y": {"field": "y", "type": "quantitative", "scale": {"domain": [-100, 56], "nice": false, "zero": false}, "axis": {"orient": "left", "values": [-100,-90,-80,-70,-60,-50,-40,-30,-20,-10,0,10,20,30,40,50], "tickSize": -11, "labels": false, "title": null}}}},
        {"data": {"name": "pts"}, "transform": [{"filter": "datum.p == 2 && datum.s == 'ld'"}], "mark": {"type": "point", "shape": "circle", "filled": true, "fill": "white", "stroke": "black", "strokeWidth": 1.2, "size": 22, "opacity": 1},
          "encoding": {
            "x": {"field": "x", "type": "quantitative", "scale": {"domain": [-0.458, 0.7715], "nice": false, "zero": false}, "axis": {"orient": "bottom", "values": [-0.4,-0.3,-0.2,-0.1,0,0.1,0.2,0.3,0.4,0.5,0.6,0.7], "tickSize": -8, "labelPadding": 25, "labelOverlap": false, "labelFlush": false, "labelExpr": "datum.value == 0 ? '0' : abs(datum.value + 0.4) < 0.001 ? '-0.4' : abs(datum.value - 0.5) < 0.001 ? '0.5' : ''", "title": "Potential / V\u00a0\u00a0vs\u00a0\u00a0SCE", "titleFontSize": 28, "titlePadding": 6, "titleX": 160}},
            "y": {"field": "y", "type": "quantitative", "scale": {"domain": [-100, 56], "nice": false, "zero": false}, "axis": {"orient": "left", "values": [-100,-90,-80,-70,-60,-50,-40,-30,-20,-10,0,10,20,30,40,50], "tickSize": -11, "labels": false, "title": null}}}},
        {"data": {"name": "pts"}, "transform": [{"filter": "datum.p == 2 && datum.s == 'dk'"}], "mark": {"type": "point", "shape": "circle", "filled": true, "color": "black", "size": 150, "opacity": 1},
          "encoding": {
            "x": {"field": "x", "type": "quantitative", "scale": {"domain": [-0.458, 0.7715], "nice": false, "zero": false}, "axis": {"orient": "bottom", "values": [-0.4,-0.3,-0.2,-0.1,0,0.1,0.2,0.3,0.4,0.5,0.6,0.7], "tickSize": -8, "labelPadding": 25, "labelOverlap": false, "labelFlush": false, "labelExpr": "datum.value == 0 ? '0' : abs(datum.value + 0.4) < 0.001 ? '-0.4' : abs(datum.value - 0.5) < 0.001 ? '0.5' : ''", "title": "Potential / V\u00a0\u00a0vs\u00a0\u00a0SCE", "titleFontSize": 28, "titlePadding": 6, "titleX": 160}},
            "y": {"field": "y", "type": "quantitative", "scale": {"domain": [-100, 56], "nice": false, "zero": false}, "axis": {"orient": "left", "values": [-100,-90,-80,-70,-60,-50,-40,-30,-20,-10,0,10,20,30,40,50], "tickSize": -11, "labels": false, "title": null}}}},
        {"data": {"name": "pts"}, "transform": [{"filter": "datum.p == 2 && datum.s == 'lt'"}], "mark": {"type": "point", "shape": "circle", "filled": true, "fill": "white", "stroke": "black", "strokeWidth": 2, "size": 80, "opacity": 1},
          "encoding": {
            "x": {"field": "x", "type": "quantitative", "scale": {"domain": [-0.458, 0.7715], "nice": false, "zero": false}, "axis": {"orient": "bottom", "values": [-0.4,-0.3,-0.2,-0.1,0,0.1,0.2,0.3,0.4,0.5,0.6,0.7], "tickSize": -8, "labelPadding": 25, "labelOverlap": false, "labelFlush": false, "labelExpr": "datum.value == 0 ? '0' : abs(datum.value + 0.4) < 0.001 ? '-0.4' : abs(datum.value - 0.5) < 0.001 ? '0.5' : ''", "title": "Potential / V\u00a0\u00a0vs\u00a0\u00a0SCE", "titleFontSize": 28, "titlePadding": 6, "titleX": 160}},
            "y": {"field": "y", "type": "quantitative", "scale": {"domain": [-100, 56], "nice": false, "zero": false}, "axis": {"orient": "left", "values": [-100,-90,-80,-70,-60,-50,-40,-30,-20,-10,0,10,20,30,40,50], "tickSize": -11, "labels": false, "title": null}}}},
        {"data": {"name": "notes"}, "transform": [{"filter": "datum.p == 2 && datum.k == 'label'"}], "mark": {"type": "text", "align": "center", "baseline": "middle", "fontSize": 16, "color": "black"},
          "encoding": {
            "x": {"field": "x", "type": "quantitative", "scale": {"domain": [-0.458, 0.7715], "nice": false, "zero": false}, "axis": {"orient": "bottom", "values": [-0.4,-0.3,-0.2,-0.1,0,0.1,0.2,0.3,0.4,0.5,0.6,0.7], "tickSize": -8, "labelPadding": 25, "labelOverlap": false, "labelFlush": false, "labelExpr": "datum.value == 0 ? '0' : abs(datum.value + 0.4) < 0.001 ? '-0.4' : abs(datum.value - 0.5) < 0.001 ? '0.5' : ''", "title": "Potential / V\u00a0\u00a0vs\u00a0\u00a0SCE", "titleFontSize": 28, "titlePadding": 6, "titleX": 160}},
            "y": {"field": "y", "type": "quantitative", "scale": {"domain": [-100, 56], "nice": false, "zero": false}, "axis": {"orient": "left", "values": [-100,-90,-80,-70,-60,-50,-40,-30,-20,-10,0,10,20,30,40,50], "tickSize": -11, "labels": false, "title": null}},
            "text": {"field": "t"}}},
        {"data": {"name": "notes"}, "transform": [{"filter": "datum.p == 2 && datum.k == 'added'"}], "mark": {"type": "text", "align": "left", "baseline": "middle", "fontSize": 17, "color": "black"},
          "encoding": {
            "x": {"field": "x", "type": "quantitative", "scale": {"domain": [-0.458, 0.7715], "nice": false, "zero": false}, "axis": {"orient": "bottom", "values": [-0.4,-0.3,-0.2,-0.1,0,0.1,0.2,0.3,0.4,0.5,0.6,0.7], "tickSize": -8, "labelPadding": 25, "labelOverlap": false, "labelFlush": false, "labelExpr": "datum.value == 0 ? '0' : abs(datum.value + 0.4) < 0.001 ? '-0.4' : abs(datum.value - 0.5) < 0.001 ? '0.5' : ''", "title": "Potential / V\u00a0\u00a0vs\u00a0\u00a0SCE", "titleFontSize": 28, "titlePadding": 6, "titleX": 160}},
            "y": {"field": "y", "type": "quantitative", "scale": {"domain": [-100, 56], "nice": false, "zero": false}, "axis": {"orient": "left", "values": [-100,-90,-80,-70,-60,-50,-40,-30,-20,-10,0,10,20,30,40,50], "tickSize": -11, "labels": false, "title": null}},
            "text": {"field": "t"}}},
        {"data": {"name": "notes"}, "transform": [{"filter": "datum.p == 2 && datum.k == 'sub'"}], "mark": {"type": "text", "align": "left", "baseline": "middle", "fontSize": 14, "color": "black"},
          "encoding": {
            "x": {"field": "x", "type": "quantitative", "scale": {"domain": [-0.458, 0.7715], "nice": false, "zero": false}, "axis": {"orient": "bottom", "values": [-0.4,-0.3,-0.2,-0.1,0,0.1,0.2,0.3,0.4,0.5,0.6,0.7], "tickSize": -8, "labelPadding": 25, "labelOverlap": false, "labelFlush": false, "labelExpr": "datum.value == 0 ? '0' : abs(datum.value + 0.4) < 0.001 ? '-0.4' : abs(datum.value - 0.5) < 0.001 ? '0.5' : ''", "title": "Potential / V\u00a0\u00a0vs\u00a0\u00a0SCE", "titleFontSize": 28, "titlePadding": 6, "titleX": 160}},
            "y": {"field": "y", "type": "quantitative", "scale": {"domain": [-100, 56], "nice": false, "zero": false}, "axis": {"orient": "left", "values": [-100,-90,-80,-70,-60,-50,-40,-30,-20,-10,0,10,20,30,40,50], "tickSize": -11, "labels": false, "title": null}},
            "text": {"field": "t"}}}
      ]
    },
    {
      "width": 326, "height": 415,
      "title": {"text": "Malachite green", "dx": -8},
      "layer": [
        {"data": {"name": "pts"}, "transform": [{"filter": "datum.p == 3 && (datum.s == 'dd' || datum.s == 'ld')"}], "mark": {"type": "line", "color": "black", "strokeWidth": 1.3, "strokeDash": [1.5, 3.5]},
          "encoding": {
            "x": {"field": "x", "type": "quantitative", "scale": {"domain": [-0.468, 0.753], "nice": false, "zero": false}, "axis": {"orient": "bottom", "values": [-0.4,-0.3,-0.2,-0.1,0,0.1,0.2,0.3,0.4,0.5,0.6,0.7], "tickSize": -8, "labelPadding": 25, "labelOverlap": false, "labelFlush": false, "title": null, "labelExpr": "datum.value == 0 ? '0' : abs(datum.value + 0.4) < 0.001 ? '-0.4' : abs(datum.value - 0.5) < 0.001 ? '0.5' : ''"}},
            "y": {"field": "y", "type": "quantitative", "scale": {"domain": [-100, 56], "nice": false, "zero": false}, "axis": {"orient": "left", "values": [-100,-90,-80,-70,-60,-50,-40,-30,-20,-10,0,10,20,30,40,50], "tickSize": -11, "labels": false, "title": null}},
            "detail": {"field": "s"}}},
        {"data": {"values": [{}]}, "mark": {"type": "rule", "color": "black", "strokeWidth": 1.3},
          "encoding": {"y": {"datum": 0, "type": "quantitative", "scale": {"domain": [-100, 56], "nice": false, "zero": false}, "axis": {"orient": "left", "values": [-100,-90,-80,-70,-60,-50,-40,-30,-20,-10,0,10,20,30,40,50], "tickSize": -11, "labels": false, "title": null}}}},
        {"data": {"values": [{}]}, "mark": {"type": "rule", "color": "black", "strokeWidth": 2},
          "encoding": {"y": {"datum": 56, "type": "quantitative", "scale": {"domain": [-100, 56], "nice": false, "zero": false}, "axis": {"orient": "left", "values": [-100,-90,-80,-70,-60,-50,-40,-30,-20,-10,0,10,20,30,40,50], "tickSize": -11, "labels": false, "title": null}}}},
        {"data": {"name": "pts"}, "transform": [{"filter": "datum.p == 3 && (datum.s == 'dk' || datum.s == 'lt')"}], "mark": {"type": "line", "color": "black", "strokeWidth": 1.6},
          "encoding": {
            "x": {"field": "x", "type": "quantitative", "scale": {"domain": [-0.468, 0.753], "nice": false, "zero": false}, "axis": {"orient": "bottom", "values": [-0.4,-0.3,-0.2,-0.1,0,0.1,0.2,0.3,0.4,0.5,0.6,0.7], "tickSize": -8, "labelPadding": 25, "labelOverlap": false, "labelFlush": false, "title": null, "labelExpr": "datum.value == 0 ? '0' : abs(datum.value + 0.4) < 0.001 ? '-0.4' : abs(datum.value - 0.5) < 0.001 ? '0.5' : ''"}},
            "y": {"field": "y", "type": "quantitative", "scale": {"domain": [-100, 56], "nice": false, "zero": false}, "axis": {"orient": "left", "values": [-100,-90,-80,-70,-60,-50,-40,-30,-20,-10,0,10,20,30,40,50], "tickSize": -11, "labels": false, "title": null}},
            "detail": {"field": "s"}}},
        {"data": {"name": "arrows"}, "transform": [{"filter": "datum.p == 3"}], "mark": {"type": "line", "color": "black", "strokeWidth": 1.2},
          "encoding": {
            "x": {"field": "x", "type": "quantitative", "scale": {"domain": [-0.468, 0.753], "nice": false, "zero": false}, "axis": {"orient": "bottom", "values": [-0.4,-0.3,-0.2,-0.1,0,0.1,0.2,0.3,0.4,0.5,0.6,0.7], "tickSize": -8, "labelPadding": 25, "labelOverlap": false, "labelFlush": false, "title": null, "labelExpr": "datum.value == 0 ? '0' : abs(datum.value + 0.4) < 0.001 ? '-0.4' : abs(datum.value - 0.5) < 0.001 ? '0.5' : ''"}},
            "y": {"field": "y", "type": "quantitative", "scale": {"domain": [-100, 56], "nice": false, "zero": false}, "axis": {"orient": "left", "values": [-100,-90,-80,-70,-60,-50,-40,-30,-20,-10,0,10,20,30,40,50], "tickSize": -11, "labels": false, "title": null}},
            "detail": {"field": "id"}, "order": {"field": "o"}}},
        {"data": {"name": "pts"}, "transform": [{"filter": "datum.p == 3 && datum.s == 'dd'"}], "mark": {"type": "point", "shape": "circle", "filled": true, "color": "black", "size": 24, "opacity": 1},
          "encoding": {
            "x": {"field": "x", "type": "quantitative", "scale": {"domain": [-0.468, 0.753], "nice": false, "zero": false}, "axis": {"orient": "bottom", "values": [-0.4,-0.3,-0.2,-0.1,0,0.1,0.2,0.3,0.4,0.5,0.6,0.7], "tickSize": -8, "labelPadding": 25, "labelOverlap": false, "labelFlush": false, "title": null, "labelExpr": "datum.value == 0 ? '0' : abs(datum.value + 0.4) < 0.001 ? '-0.4' : abs(datum.value - 0.5) < 0.001 ? '0.5' : ''"}},
            "y": {"field": "y", "type": "quantitative", "scale": {"domain": [-100, 56], "nice": false, "zero": false}, "axis": {"orient": "left", "values": [-100,-90,-80,-70,-60,-50,-40,-30,-20,-10,0,10,20,30,40,50], "tickSize": -11, "labels": false, "title": null}}}},
        {"data": {"name": "pts"}, "transform": [{"filter": "datum.p == 3 && datum.s == 'ld'"}], "mark": {"type": "point", "shape": "circle", "filled": true, "fill": "white", "stroke": "black", "strokeWidth": 1.2, "size": 22, "opacity": 1},
          "encoding": {
            "x": {"field": "x", "type": "quantitative", "scale": {"domain": [-0.468, 0.753], "nice": false, "zero": false}, "axis": {"orient": "bottom", "values": [-0.4,-0.3,-0.2,-0.1,0,0.1,0.2,0.3,0.4,0.5,0.6,0.7], "tickSize": -8, "labelPadding": 25, "labelOverlap": false, "labelFlush": false, "title": null, "labelExpr": "datum.value == 0 ? '0' : abs(datum.value + 0.4) < 0.001 ? '-0.4' : abs(datum.value - 0.5) < 0.001 ? '0.5' : ''"}},
            "y": {"field": "y", "type": "quantitative", "scale": {"domain": [-100, 56], "nice": false, "zero": false}, "axis": {"orient": "left", "values": [-100,-90,-80,-70,-60,-50,-40,-30,-20,-10,0,10,20,30,40,50], "tickSize": -11, "labels": false, "title": null}}}},
        {"data": {"name": "pts"}, "transform": [{"filter": "datum.p == 3 && datum.s == 'dk'"}], "mark": {"type": "point", "shape": "circle", "filled": true, "color": "black", "size": 150, "opacity": 1},
          "encoding": {
            "x": {"field": "x", "type": "quantitative", "scale": {"domain": [-0.468, 0.753], "nice": false, "zero": false}, "axis": {"orient": "bottom", "values": [-0.4,-0.3,-0.2,-0.1,0,0.1,0.2,0.3,0.4,0.5,0.6,0.7], "tickSize": -8, "labelPadding": 25, "labelOverlap": false, "labelFlush": false, "title": null, "labelExpr": "datum.value == 0 ? '0' : abs(datum.value + 0.4) < 0.001 ? '-0.4' : abs(datum.value - 0.5) < 0.001 ? '0.5' : ''"}},
            "y": {"field": "y", "type": "quantitative", "scale": {"domain": [-100, 56], "nice": false, "zero": false}, "axis": {"orient": "left", "values": [-100,-90,-80,-70,-60,-50,-40,-30,-20,-10,0,10,20,30,40,50], "tickSize": -11, "labels": false, "title": null}}}},
        {"data": {"name": "pts"}, "transform": [{"filter": "datum.p == 3 && datum.s == 'lt'"}], "mark": {"type": "point", "shape": "circle", "filled": true, "fill": "white", "stroke": "black", "strokeWidth": 2, "size": 80, "opacity": 1},
          "encoding": {
            "x": {"field": "x", "type": "quantitative", "scale": {"domain": [-0.468, 0.753], "nice": false, "zero": false}, "axis": {"orient": "bottom", "values": [-0.4,-0.3,-0.2,-0.1,0,0.1,0.2,0.3,0.4,0.5,0.6,0.7], "tickSize": -8, "labelPadding": 25, "labelOverlap": false, "labelFlush": false, "title": null, "labelExpr": "datum.value == 0 ? '0' : abs(datum.value + 0.4) < 0.001 ? '-0.4' : abs(datum.value - 0.5) < 0.001 ? '0.5' : ''"}},
            "y": {"field": "y", "type": "quantitative", "scale": {"domain": [-100, 56], "nice": false, "zero": false}, "axis": {"orient": "left", "values": [-100,-90,-80,-70,-60,-50,-40,-30,-20,-10,0,10,20,30,40,50], "tickSize": -11, "labels": false, "title": null}}}},
        {"data": {"name": "notes"}, "transform": [{"filter": "datum.p == 3 && datum.k == 'label'"}], "mark": {"type": "text", "align": "center", "baseline": "middle", "fontSize": 16, "color": "black"},
          "encoding": {
            "x": {"field": "x", "type": "quantitative", "scale": {"domain": [-0.468, 0.753], "nice": false, "zero": false}, "axis": {"orient": "bottom", "values": [-0.4,-0.3,-0.2,-0.1,0,0.1,0.2,0.3,0.4,0.5,0.6,0.7], "tickSize": -8, "labelPadding": 25, "labelOverlap": false, "labelFlush": false, "title": null, "labelExpr": "datum.value == 0 ? '0' : abs(datum.value + 0.4) < 0.001 ? '-0.4' : abs(datum.value - 0.5) < 0.001 ? '0.5' : ''"}},
            "y": {"field": "y", "type": "quantitative", "scale": {"domain": [-100, 56], "nice": false, "zero": false}, "axis": {"orient": "left", "values": [-100,-90,-80,-70,-60,-50,-40,-30,-20,-10,0,10,20,30,40,50], "tickSize": -11, "labels": false, "title": null}},
            "text": {"field": "t"}}},
        {"data": {"name": "notes"}, "transform": [{"filter": "datum.p == 3 && datum.k == 'added'"}], "mark": {"type": "text", "align": "left", "baseline": "middle", "fontSize": 17, "color": "black"},
          "encoding": {
            "x": {"field": "x", "type": "quantitative", "scale": {"domain": [-0.468, 0.753], "nice": false, "zero": false}, "axis": {"orient": "bottom", "values": [-0.4,-0.3,-0.2,-0.1,0,0.1,0.2,0.3,0.4,0.5,0.6,0.7], "tickSize": -8, "labelPadding": 25, "labelOverlap": false, "labelFlush": false, "title": null, "labelExpr": "datum.value == 0 ? '0' : abs(datum.value + 0.4) < 0.001 ? '-0.4' : abs(datum.value - 0.5) < 0.001 ? '0.5' : ''"}},
            "y": {"field": "y", "type": "quantitative", "scale": {"domain": [-100, 56], "nice": false, "zero": false}, "axis": {"orient": "left", "values": [-100,-90,-80,-70,-60,-50,-40,-30,-20,-10,0,10,20,30,40,50], "tickSize": -11, "labels": false, "title": null}},
            "text": {"field": "t"}}},
        {"data": {"name": "notes"}, "transform": [{"filter": "datum.p == 3 && datum.k == 'sub'"}], "mark": {"type": "text", "align": "left", "baseline": "middle", "fontSize": 14, "color": "black"},
          "encoding": {
            "x": {"field": "x", "type": "quantitative", "scale": {"domain": [-0.468, 0.753], "nice": false, "zero": false}, "axis": {"orient": "bottom", "values": [-0.4,-0.3,-0.2,-0.1,0,0.1,0.2,0.3,0.4,0.5,0.6,0.7], "tickSize": -8, "labelPadding": 25, "labelOverlap": false, "labelFlush": false, "title": null, "labelExpr": "datum.value == 0 ? '0' : abs(datum.value + 0.4) < 0.001 ? '-0.4' : abs(datum.value - 0.5) < 0.001 ? '0.5' : ''"}},
            "y": {"field": "y", "type": "quantitative", "scale": {"domain": [-100, 56], "nice": false, "zero": false}, "axis": {"orient": "left", "values": [-100,-90,-80,-70,-60,-50,-40,-30,-20,-10,0,10,20,30,40,50], "tickSize": -11, "labels": false, "title": null}},
            "text": {"field": "t"}}}
      ]
    }
  ]
}
